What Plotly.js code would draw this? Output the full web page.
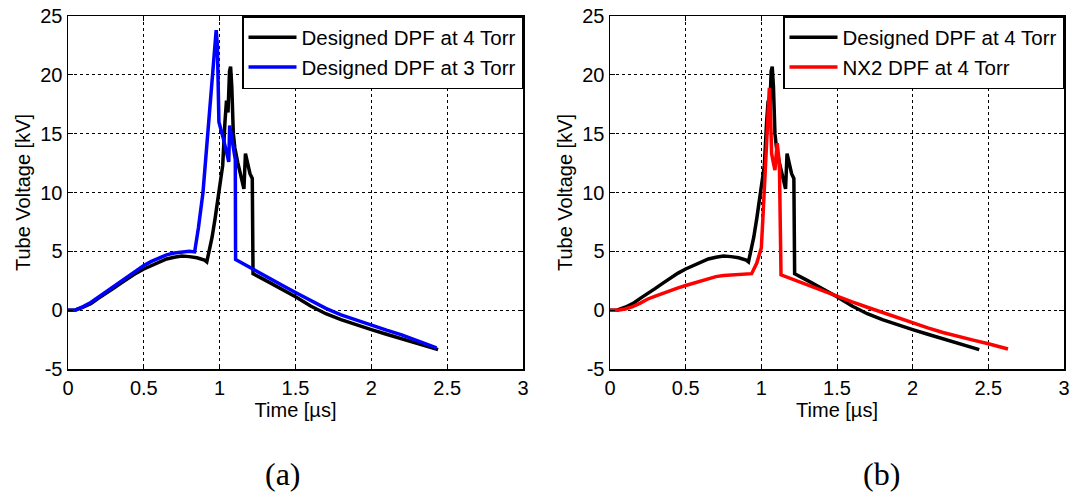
<!DOCTYPE html>
<html>
<head>
<meta charset="utf-8">
<script src="https://cdn.plot.ly/plotly-3.0.1.min.js"></script>
<style>
  html, body { margin: 0; padding: 0; background: #ffffff; }
  #chart { width: 1076px; height: 501px; }
</style>
</head>
<body>
<div id="chart"></div>
<script>
// ---- Data (time in µs, tube voltage in kV) ----
const designed4Time = [0, 0.05, 0.1, 0.15, 0.2, 0.25, 0.3, 0.35, 0.4, 0.45, 0.5, 0.55, 0.6, 0.65, 0.7, 0.75, 0.8, 0.85, 0.9, 0.915,
  0.93, 0.95, 0.97, 0.99, 1.0, 1.01, 1.02, 1.035, 1.045, 1.055, 1.065, 1.072, 1.08, 1.09, 1.1, 1.12, 1.14, 1.16, 1.17, 1.185, 1.2, 1.215, 1.22,
  1.3, 1.4, 1.5, 1.6, 1.7, 1.8, 1.9, 2.0, 2.1, 2.2, 2.3, 2.4, 2.44];
const designed4Volt = [0, 0.02, 0.25, 0.55, 1.0, 1.4, 1.85, 2.3, 2.75, 3.15, 3.5, 3.8, 4.1, 4.35, 4.5, 4.6, 4.55, 4.45, 4.25, 4.1,
  5.0, 6.2, 7.8, 9.5, 10.3, 11.5, 12.3, 16.0, 17.8, 16.8, 20.3, 20.7, 19.0, 15.0, 13.8, 12.5, 11.3, 10.3, 13.3, 12.5, 11.6, 11.2, 3.1,
  2.55, 1.85, 1.15, 0.35, -0.3, -0.8, -1.25, -1.65, -2.05, -2.45, -2.85, -3.2, -3.35];

const designed3Time = [0, 0.05, 0.1, 0.15, 0.2, 0.25, 0.3, 0.35, 0.4, 0.45, 0.5, 0.55, 0.6, 0.65, 0.7, 0.75, 0.8, 0.835,
  0.86, 0.89, 0.92, 0.95, 0.965, 0.977, 0.985, 0.995, 1.022, 1.06, 1.066, 1.088, 1.103, 1.105,
  1.2, 1.3, 1.4, 1.5, 1.6, 1.7, 1.8, 1.9, 2.0, 2.1, 2.2, 2.3, 2.43];
const designed3Volt = [0, 0.02, 0.3, 0.65, 1.1, 1.55, 2.0, 2.5, 2.95, 3.4, 3.8, 4.15, 4.45, 4.7, 4.85, 4.95, 5.0, 4.95,
  7.0, 10.0, 15.0, 19.8, 22.5, 23.8, 22.5, 16.0, 14.7, 12.6, 15.7, 14.2, 12.8, 4.3,
  3.6, 2.9, 2.2, 1.5, 0.8, 0.15, -0.4, -0.85, -1.3, -1.7, -2.1, -2.55, -3.2];

const nx2Time = [0, 0.05, 0.1, 0.15, 0.2, 0.25, 0.3, 0.35, 0.4, 0.45, 0.5, 0.55, 0.6, 0.65, 0.7, 0.75, 0.8, 0.85, 0.9, 0.936,
  0.97, 1.0, 1.013, 1.024, 1.036, 1.045, 1.053, 1.06, 1.068, 1.08, 1.09, 1.1, 1.105, 1.115, 1.12, 1.13,
  1.2, 1.3, 1.4, 1.5, 1.6, 1.7, 1.8, 1.9, 2.0, 2.1, 2.2, 2.3, 2.4, 2.5, 2.6, 2.63];
const nx2Volt = [0, 0.0, 0.1, 0.3, 0.6, 0.95, 1.2, 1.45, 1.7, 1.9, 2.1, 2.3, 2.5, 2.7, 2.85, 2.95, 3.0, 3.05, 3.1, 3.1,
  4.0, 5.3, 8.5, 11.3, 13.6, 16.8, 18.9, 17.0, 13.3, 12.5, 11.9, 13.5, 14.2, 13.0, 11.9, 3.0,
  2.65, 2.15, 1.7, 1.2, 0.7, 0.25, -0.2, -0.65, -1.1, -1.5, -1.9, -2.25, -2.55, -2.85, -3.15, -3.3];

const xTickVals = [0, 0.5, 1, 1.5, 2, 2.5, 3];
const xTickText = ['0', '0.5', '1', '1.5', '2', '2.5', '3'];
const yTickVals = [-5, 0, 5, 10, 15, 20, 25];
const yTickText = ['-5', '0', '5', '10', '15', '20', '25'];

const nameDesigned4 = 'Designed DPF at 4 Torr';
const nameDesigned3 = 'Designed DPF at 3 Torr';
const nameNX2 = 'NX2 DPF at 4 Torr';
const panelLabels = ['(a)', '(b)'];
const xTitle = 'Time [µs]';
const yTitle = 'Tube Voltage [kV]';

// ---- Traces ----
const LW = 3.5;
const traces = [
  { x: designed4Time, y: designed4Volt, name: nameDesigned4, type: 'scatter', mode: 'lines',
    line: { color: '#000000', width: LW }, xaxis: 'x', yaxis: 'y', legend: 'legend' },
  { x: designed3Time, y: designed3Volt, name: nameDesigned3, type: 'scatter', mode: 'lines',
    line: { color: '#0000ff', width: LW }, xaxis: 'x', yaxis: 'y', legend: 'legend' },
  { x: designed4Time, y: designed4Volt, name: nameDesigned4, type: 'scatter', mode: 'lines',
    line: { color: '#000000', width: LW }, xaxis: 'x2', yaxis: 'y2', legend: 'legend2' },
  { x: nx2Time, y: nx2Volt, name: nameNX2, type: 'scatter', mode: 'lines',
    line: { color: '#ff0000', width: LW }, xaxis: 'x2', yaxis: 'y2', legend: 'legend2' }
];

const W = 1076, H = 501;
const leftDom = [68 / W, 523 / W];
const rightDom = [610 / W, 1064 / W];
const yDom = [1 - 369 / H, 1 - 16 / H];

const fontFam = '"Liberation Sans", Arial, sans-serif';

function xAxis(domain, anchor) {
  return {
    domain: domain, anchor: anchor, range: [0, 3], tickvals: xTickVals, ticktext: xTickText,
    showgrid: true, gridcolor: '#000000', gridwidth: 1, griddash: '3px,3px',
    showline: true, linecolor: '#000000', linewidth: 1.5, mirror: 'ticks',
    ticks: 'inside', ticklen: 5, tickcolor: '#000000', zeroline: false,
    tickfont: { family: fontFam, size: 20, color: '#000000' },
    title: { text: xTitle, font: { family: fontFam, size: 20, color: '#000000' }, standoff: 4 },
    automargin: false, fixedrange: true
  };
}
function yAxis(anchor) {
  return {
    domain: yDom, anchor: anchor, range: [-5, 25], tickvals: yTickVals, ticktext: yTickText,
    showgrid: true, gridcolor: '#000000', gridwidth: 1, griddash: '3px,3px',
    showline: true, linecolor: '#000000', linewidth: 1.5, mirror: 'ticks',
    ticks: 'inside', ticklen: 5, tickcolor: '#000000', zeroline: false,
    tickfont: { family: fontFam, size: 20, color: '#000000' },
    title: { text: yTitle, font: { family: fontFam, size: 20, color: '#000000' }, standoff: 4 },
    automargin: false, fixedrange: true
  };
}

function legendBox(xRight) {
  return {
    x: xRight, xanchor: 'right', y: yDom[1], yanchor: 'top', xref: 'paper', yref: 'paper',
    bgcolor: '#ffffff', bordercolor: '#000000', borderwidth: 1.5, itemwidth: 48,
    font: { family: fontFam, size: 20.5, color: '#000000' }, tracegroupgap: 0
  };
}

const layout = {
  width: W, height: H,
  margin: { l: 0, r: 0, t: 0, b: 0 },
  paper_bgcolor: '#ffffff', plot_bgcolor: '#ffffff',
  showlegend: true,
  xaxis: xAxis(leftDom, 'y'),
  yaxis: yAxis('x'),
  xaxis2: xAxis(rightDom, 'y2'),
  yaxis2: yAxis('x2'),
  legend: legendBox(leftDom[1]),
  legend2: legendBox(rightDom[1]),
  annotations: [
    { text: panelLabels[0], x: 283 / W, y: 1 - 474 / H, xref: 'paper', yref: 'paper',
      xanchor: 'center', yanchor: 'middle', showarrow: false,
      font: { family: '"Liberation Serif", "Times New Roman", serif', size: 32, color: '#000000' } },
    { text: panelLabels[1], x: 881 / W, y: 1 - 474 / H, xref: 'paper', yref: 'paper',
      xanchor: 'center', yanchor: 'middle', showarrow: false,
      font: { family: '"Liberation Serif", "Times New Roman", serif', size: 32, color: '#000000' } }
  ]
};

Plotly.newPlot('chart', traces, layout, { displayModeBar: false, staticPlot: true });
</script>
</body>
</html>
